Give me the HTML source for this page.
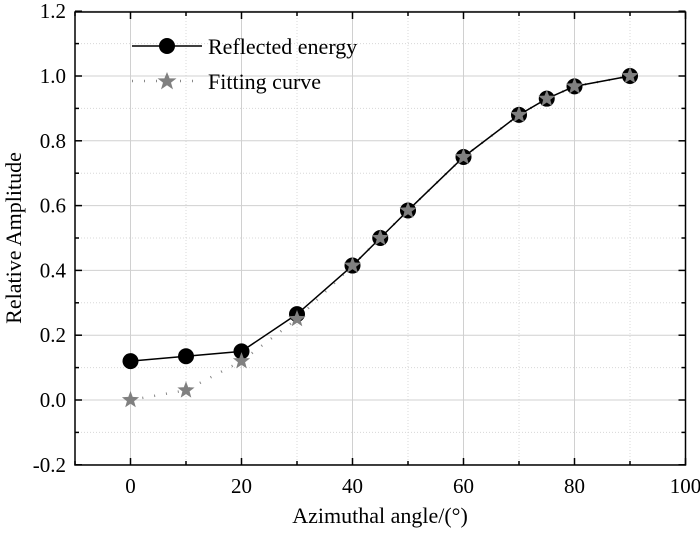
<!DOCTYPE html>
<html><head><meta charset="utf-8"><style>
body{margin:0;background:#fff;}
svg text{font-family:"Liberation Serif",serif;fill:#000;}
</style></head><body>
<svg id="chart" width="700" height="530" xmlns="http://www.w3.org/2000/svg">
<g id="grid"></g>
<g id="series"></g>
<g id="axes"></g>
<g>
<line x1="132" y1="46" x2="202" y2="46" stroke="#000" stroke-width="1.5"/>
<circle cx="167" cy="46" r="8" fill="#000"/>
<text x="208" y="54" font-size="22">Reflected energy</text>
<line x1="132" y1="81" x2="202" y2="81" stroke="#888" stroke-width="2.5" stroke-dasharray="1,11"/>
<polygon points="167,72 169.6,78.4 176.5,78.4 171,82.6 173,89.4 167,85.3 161,89.4 163,82.6 157.5,78.4 164.4,78.4" fill="#808080"/>
<text x="208" y="89" font-size="22">Fitting curve</text>
</g>
<text x="380" y="523" font-size="22" text-anchor="middle">Azimuthal angle/(°)</text>
<text transform="translate(21,238) rotate(-90)" font-size="22" text-anchor="middle">Relative Amplitude</text>
</svg>
<script>
const xAngles=[0,10,20,30,40,45,50,60,70,75,80,90];
const reflected=[0.12,0.135,0.15,0.265,0.415,0.5,0.585,0.75,0.88,0.93,0.968,1.0];
const fitting=[0,0.03,0.12,0.25,0.415,0.5,0.585,0.75,0.88,0.93,0.968,1.0];
const xTicks=[0,20,40,60,80,100];
const yTicks=[-0.2,0,0.2,0.4,0.6,0.8,1.0,1.2];
const yTickLabels=["-0.2","0.0","0.2","0.4","0.6","0.8","1.0","1.2"];

const L=75,R=685.5,T=12,B=465;
const X=v=>130.5+(v)*5.55;
const Y=v=>400-v*324;
const NS="http://www.w3.org/2000/svg";
function mk(tag,attrs,parent){const e=document.createElementNS(NS,tag);for(const k in attrs)e.setAttribute(k,attrs[k]);parent.appendChild(e);return e;}
const grid=document.getElementById('grid'),axes=document.getElementById('axes'),ser=document.getElementById('series');
for(let v=-10;v<=100;v+=10){
 const major=v%20===0;
 const g=mk('line',{x1:X(v),x2:X(v),y1:T,y2:B,stroke:major?'#d0d0d0':'#d8d8d8','stroke-width':1,'stroke-dasharray':major?'none':'1,2'},grid);
 
 
}
for(let i=-2;i<=12;i++){
 const v=i/10,major=i%2===0;
 const g=mk('line',{x1:L,x2:R,y1:Y(v),y2:Y(v),stroke:major?'#d0d0d0':'#d8d8d8','stroke-width':1,'stroke-dasharray':major?'none':'1,2'},grid);
 
 
}
const fr=mk('rect',{x:L,y:T,width:R-L,height:B-T,fill:'none',stroke:'#000','stroke-width':1.5},axes);


for(let v=-10;v<=100;v+=10){
 const len=v%20===0?7:4;
 mk('line',{x1:X(v),x2:X(v),y1:B,y2:B-len,stroke:'#000','stroke-width':1.5},axes);
 mk('line',{x1:X(v),x2:X(v),y1:T,y2:T+len,stroke:'#000','stroke-width':1.5},axes);
}
for(let i=-2;i<=12;i++){
 const len=i%2===0?7:4;
 mk('line',{x1:L,x2:L+len,y1:Y(i/10),y2:Y(i/10),stroke:'#000','stroke-width':1.5},axes);
 mk('line',{x1:R,x2:R-len,y1:Y(i/10),y2:Y(i/10),stroke:'#000','stroke-width':1.5},axes);
}
xTicks.forEach(v=>{
 const t=mk('text',{x:X(v),y:B+28,'font-size':21,'text-anchor':'middle'},axes);t.textContent=v;
 
 
});
yTicks.forEach((v,i)=>{
 const t=mk('text',{x:L-9,y:Y(v)+7,'font-size':21,'text-anchor':'end'},axes);t.textContent=yTickLabels[i];
 
 
});
const fl=mk('polyline',{points:xAngles.map((x,i)=>X(x)+','+Y(fitting[i])).join(' '),fill:'none',stroke:'#888','stroke-width':2.5,'stroke-dasharray':'1,11'},ser);


const rl=mk('polyline',{points:xAngles.map((x,i)=>X(x)+','+Y(reflected[i])).join(' '),fill:'none',stroke:'#000','stroke-width':1.5},ser);


xAngles.forEach((x,i)=>{
 const c=mk('circle',{cx:X(x),cy:Y(reflected[i]),r:8,fill:'#000'},ser);
 
 
});
function star(cx,cy,r){let p=[];for(let k=0;k<10;k++){const rr=k%2?r*0.42:r;const a=-Math.PI/2+k*Math.PI/5;p.push((cx+rr*Math.cos(a)).toFixed(1)+','+(cy+rr*Math.sin(a)).toFixed(1));}return p.join(' ');}
xAngles.forEach((x,i)=>{
 const s=mk('polygon',{points:star(X(x),Y(fitting[i]),9),fill:'#808080'},ser);
 
 
});
</script>
</body></html>
